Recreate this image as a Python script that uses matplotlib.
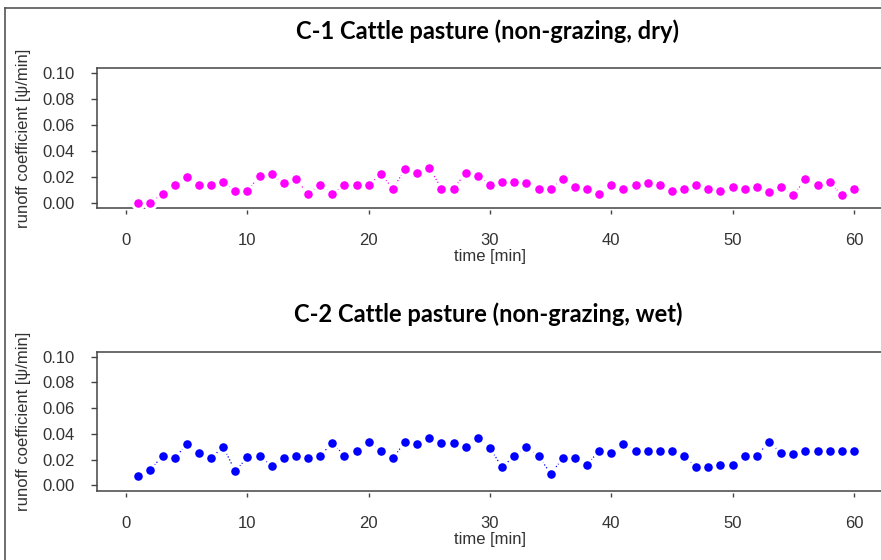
import numpy as np
import matplotlib
matplotlib.use("Agg")
import matplotlib.pyplot as plt
from matplotlib.lines import Line2D

plt.rcParams['font.family'] = ['Liberation Sans', 'DejaVu Sans']

# time [min]
minutes = np.arange(1, 61)

# C-1 Cattle pasture (non-grazing, dry)
dry = [0.000, 0.000, 0.007, 0.014, 0.020, 0.014, 0.014, 0.016, 0.009, 0.009,
       0.021, 0.022, 0.015, 0.018, 0.007, 0.014, 0.007, 0.014, 0.014, 0.014,
       0.022, 0.011, 0.026, 0.023, 0.027, 0.011, 0.011, 0.023, 0.021, 0.014,
       0.016, 0.016, 0.015, 0.011, 0.011, 0.018, 0.012, 0.011, 0.007, 0.014,
       0.011, 0.014, 0.015, 0.014, 0.009, 0.011, 0.014, 0.011, 0.009, 0.012,
       0.011, 0.012, 0.008, 0.012, 0.006, 0.018, 0.014, 0.016, 0.006, 0.011]

# C-2 Cattle pasture (non-grazing, wet)
wet = [0.007, 0.012, 0.023, 0.021, 0.032, 0.025, 0.021, 0.030, 0.011, 0.022,
       0.023, 0.015, 0.021, 0.023, 0.021, 0.023, 0.033, 0.023, 0.027, 0.034,
       0.027, 0.021, 0.034, 0.032, 0.037, 0.033, 0.033, 0.030, 0.037, 0.029,
       0.014, 0.023, 0.030, 0.023, 0.009, 0.021, 0.021, 0.016, 0.027, 0.025,
       0.032, 0.027, 0.027, 0.027, 0.027, 0.023, 0.014, 0.014, 0.016, 0.016,
       0.023, 0.023, 0.034, 0.025, 0.024, 0.027, 0.027, 0.027, 0.027, 0.027]

panels = [
    ("C-1 Cattle pasture (non-grazing, dry)", dry, "#ff00ff"),
    ("C-2 Cattle pasture (non-grazing, wet)", wet, "#0000ff"),
]

W, H = 881, 560
fig = plt.figure(figsize=(W / 100, H / 100), dpi=100)

# pixel boxes: (left, top, right, bottom)
boxes = [(97, 68, 883, 208), (97, 351.5, 883, 490.5)]
title_y = [31, 314]
axis_col = "#444444"
text_col = "#333333"

for (title, vals, col), (l, t, r, b), ty in zip(panels, boxes, title_y):
    ax = fig.add_axes([l / W, 1 - b / H, (r - l) / W, (b - t) / H])
    ax.plot(minutes, vals, ls=':', lw=0.9, color=col, zorder=2)
    # white ring hides the connecting line close to each point (like R type="b")
    ax.plot(minutes, vals, 'o', ms=8.3, mfc=col, mec='white', mew=2.1,
            ls='none', zorder=3)
    ax.set_xlim(-2.4, 62.4)
    ax.set_ylim(-0.004, 0.104)
    ax.set_xticks(np.arange(0, 61, 10))
    ax.set_yticks(np.arange(0, 0.101, 0.02))
    ax.set_yticklabels(["%.2f" % v for v in np.arange(0, 0.101, 0.02)])
    for s in ax.spines.values():
        s.set_color(axis_col)
        s.set_linewidth(1.1)
    ax.spines['bottom'].set_position(('outward', 1.5))
    ax.spines['bottom'].set_visible(False)
    ax.axhline(-0.004, color=axis_col, lw=1.1, clip_on=False)
    ax.tick_params(axis='y', length=4.5, width=1, color=axis_col, pad=11.5,
                   labelsize=12, labelcolor=text_col)
    ax.tick_params(axis='x', length=3, width=1, color=axis_col, pad=13.5,
                   labelsize=12, labelcolor=text_col)
    ax.set_xlabel("time [min]", fontsize=12, color=text_col, labelpad=1)
    ax.set_ylabel("runoff coefficient [\u03c8/min]", fontsize=12, color=text_col,
                  labelpad=8)
    fig.text(488 / W, 1 - ty / H, title, ha='center', va='center',
             fontsize=17, fontweight='bold', family=['Lato', 'DejaVu Sans'])

# outer frame (left and top edges visible)
fig.add_artist(Line2D([5 / W, 5 / W], [0, 1 - 8 / H], color="#555555", lw=1.2))
fig.add_artist(Line2D([5 / W, 1], [1 - 8 / H, 1 - 8 / H], color="#555555", lw=1.2))

fig.savefig("out.png", dpi=100)
